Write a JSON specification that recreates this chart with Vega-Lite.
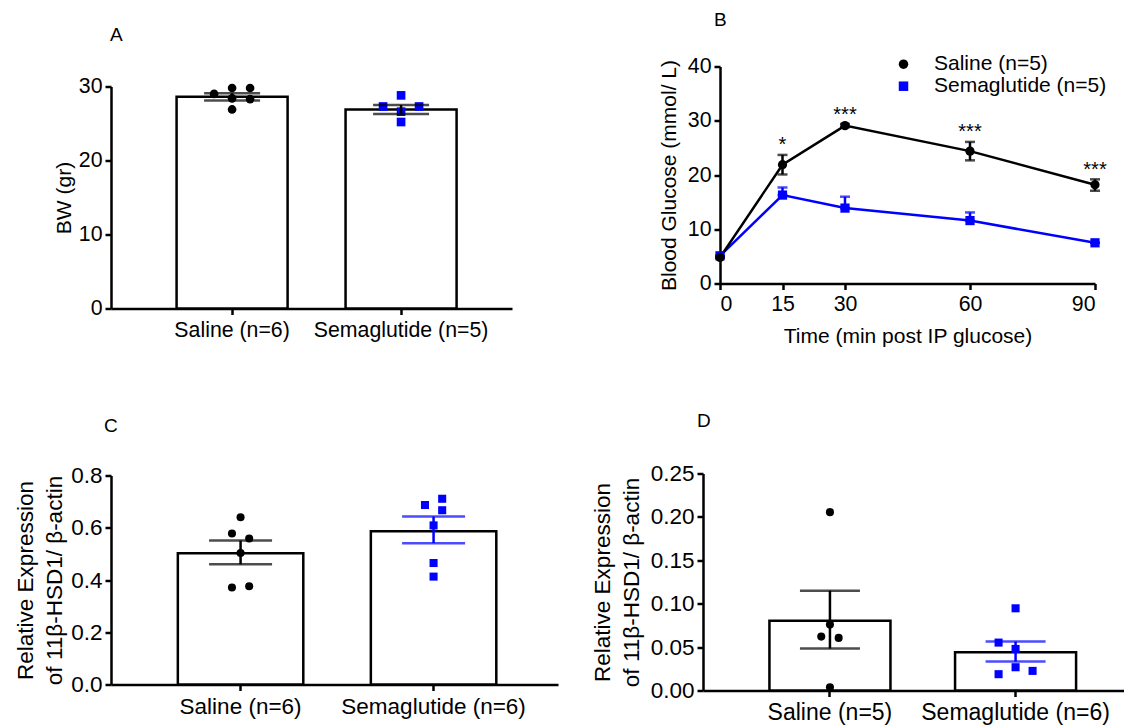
{
  "$schema": "https://vega.github.io/schema/vega-lite/v6.json",
  "background": "white",
  "padding": {"left": 14, "top": 10.5, "right": 0, "bottom": 0},
  "config": {
    "font": "Liberation Sans",
    "view": {"stroke": null},
    "axis": {"domainColor": "black", "domainWidth": 2.5, "tickColor": "black", "tickWidth": 2.5, "tickSize": 6, "labelColor": "black", "titleColor": "black", "grid": false, "labelFontSize": 21.3, "titleFontSize": 21, "titleFontWeight": "normal", "labelPadding": 3, "titlePadding": 4, "labelLimit": 0, "labelFont": "Liberation Sans", "titleFont": "Liberation Sans"},
    "legend": {"labelFont": "Liberation Sans", "labelFontSize": 21, "labelColor": "black", "labelLimit": 0},
    "title": {"anchor": "start", "frame": "group", "fontSize": 19, "fontWeight": "normal", "color": "black", "font": "Liberation Sans"}
  },
  "resolve": {"scale": {"color": "independent", "shape": "independent"}},
  "datasets": {
    "barA": [
      {"g": "Saline (n=6)", "mean": 28.6, "lo": 28.1, "hi": 29.1},
      {"g": "Semaglutide (n=5)", "mean": 26.9, "lo": 26.3, "hi": 27.5}
    ],
    "ptsA": [
      {"g": "Saline (n=6)", "v": 29.0, "col": -2},
      {"g": "Saline (n=6)", "v": 29.8, "col": 0},
      {"g": "Saline (n=6)", "v": 28.4, "col": 0},
      {"g": "Saline (n=6)", "v": 26.9, "col": 0},
      {"g": "Saline (n=6)", "v": 29.8, "col": 2},
      {"g": "Saline (n=6)", "v": 28.3, "col": 2},
      {"g": "Semaglutide (n=5)", "v": 28.8, "col": 0},
      {"g": "Semaglutide (n=5)", "v": 27.3, "col": -2},
      {"g": "Semaglutide (n=5)", "v": 27.3, "col": 2},
      {"g": "Semaglutide (n=5)", "v": 26.6, "col": 0},
      {"g": "Semaglutide (n=5)", "v": 25.2, "col": 0}
    ],
    "glc": [
      {"g": "Semaglutide (n=5)", "t": 0, "m": 5.1, "lo": 5.1, "hi": 5.1, "sig": ""},
      {"g": "Semaglutide (n=5)", "t": 15, "m": 16.3, "lo": 16.3, "hi": 17.7, "sig": ""},
      {"g": "Semaglutide (n=5)", "t": 30, "m": 13.9, "lo": 13.9, "hi": 16.0, "sig": ""},
      {"g": "Semaglutide (n=5)", "t": 60, "m": 11.6, "lo": 11.6, "hi": 13.1, "sig": ""},
      {"g": "Semaglutide (n=5)", "t": 90, "m": 7.5, "lo": 7.5, "hi": 7.5, "sig": ""},
      {"g": "Saline (n=5)", "t": 0, "m": 4.8, "lo": 4.8, "hi": 4.8, "sig": ""},
      {"g": "Saline (n=5)", "t": 15, "m": 21.9, "lo": 20.1, "hi": 23.7, "sig": "*"},
      {"g": "Saline (n=5)", "t": 30, "m": 29.1, "lo": 28.8, "hi": 29.4, "sig": "***"},
      {"g": "Saline (n=5)", "t": 60, "m": 24.4, "lo": 22.7, "hi": 26.1, "sig": "***"},
      {"g": "Saline (n=5)", "t": 90, "m": 18.2, "lo": 17.1, "hi": 19.2, "sig": "***"}
    ],
    "barC": [
      {"g": "Saline (n=6)", "mean": 0.502, "lo": 0.460, "hi": 0.551},
      {"g": "Semaglutide (n=6)", "mean": 0.587, "lo": 0.541, "hi": 0.643}
    ],
    "ptsC": [
      {"g": "Saline (n=6)", "v": 0.640, "col": 0},
      {"g": "Saline (n=6)", "v": 0.578, "col": -1},
      {"g": "Saline (n=6)", "v": 0.559, "col": 1},
      {"g": "Saline (n=6)", "v": 0.503, "col": 0},
      {"g": "Saline (n=6)", "v": 0.371, "col": -1},
      {"g": "Saline (n=6)", "v": 0.376, "col": 1},
      {"g": "Semaglutide (n=6)", "v": 0.687, "col": -1},
      {"g": "Semaglutide (n=6)", "v": 0.711, "col": 1},
      {"g": "Semaglutide (n=6)", "v": 0.667, "col": 1},
      {"g": "Semaglutide (n=6)", "v": 0.609, "col": 0},
      {"g": "Semaglutide (n=6)", "v": 0.465, "col": 0},
      {"g": "Semaglutide (n=6)", "v": 0.413, "col": 0}
    ],
    "barD": [
      {"g": "Saline (n=5)", "mean": 0.0805, "lo": 0.0483, "hi": 0.115},
      {"g": "Semaglutide (n=6)", "mean": 0.0441, "lo": 0.0334, "hi": 0.0564}
    ],
    "ptsD": [
      {"g": "Saline (n=5)", "v": 0.2055, "col": 0},
      {"g": "Saline (n=5)", "v": 0.0759, "col": 0},
      {"g": "Saline (n=5)", "v": 0.0621, "col": -1},
      {"g": "Saline (n=5)", "v": 0.0606, "col": 1},
      {"g": "Saline (n=5)", "v": 0.0038, "col": 0},
      {"g": "Semaglutide (n=6)", "v": 0.0947, "col": 0},
      {"g": "Semaglutide (n=6)", "v": 0.0552, "col": -2},
      {"g": "Semaglutide (n=6)", "v": 0.0479, "col": 0},
      {"g": "Semaglutide (n=6)", "v": 0.0268, "col": 0},
      {"g": "Semaglutide (n=6)", "v": 0.0226, "col": 2},
      {"g": "Semaglutide (n=6)", "v": 0.0188, "col": -2}
    ]
  },
  "vconcat": [
    {
      "resolve": {"scale": {"color": "independent", "shape": "independent"}},
      "hconcat": [
        {
          "width": 401, "height": 242,
          "title": {"text": "A", "offset": 21.5, "dx": -1},
          "layer": [
            {
              "data": {"name": "barA"},
              "mark": {"type": "bar", "fill": "white", "stroke": "black", "strokeWidth": 2.5},
              "encoding": {
                "x": {"field": "g", "type": "nominal", "sort": null, "scale": {"paddingInner": 0.343, "paddingOuter": 0.358, "align": 0.542}, "axis": {"title": null, "labelAngle": 0, "labelPadding": 5}},
                "y": {"field": "mean", "type": "quantitative", "scale": {"domain": [0, 30], "nice": false, "range": [242, 20]}, "axis": {"values": [0, 10, 20, 30], "title": "BW (gr)"}}
              }
            },
            {
              "data": {"name": "ptsA"},
              "transform": [{"filter": "datum.col === -2"}],
              "mark": {"type": "point", "filled": true, "opacity": 1, "size": 75, "xOffset": -18},
              "encoding": {
                "x": {"field": "g", "type": "nominal", "sort": null},
                "y": {"field": "v", "type": "quantitative"},
                "color": {"field": "g", "type": "nominal", "scale": {"domain": ["Saline (n=6)", "Semaglutide (n=5)"], "range": ["#000000", "#0000ff"]}, "legend": null},
                "shape": {"field": "g", "type": "nominal", "scale": {"domain": ["Saline (n=6)", "Semaglutide (n=5)"], "range": ["circle", "square"]}, "legend": null}
              }
            },
            {
              "data": {"name": "ptsA"},
              "transform": [{"filter": "datum.col === 0"}],
              "mark": {"type": "point", "filled": true, "opacity": 1, "size": 75},
              "encoding": {
                "x": {"field": "g", "type": "nominal", "sort": null},
                "y": {"field": "v", "type": "quantitative"},
                "color": {"field": "g", "type": "nominal", "legend": null},
                "shape": {"field": "g", "type": "nominal", "legend": null}
              }
            },
            {
              "data": {"name": "ptsA"},
              "transform": [{"filter": "datum.col === 2"}],
              "mark": {"type": "point", "filled": true, "opacity": 1, "size": 75, "xOffset": 18},
              "encoding": {
                "x": {"field": "g", "type": "nominal", "sort": null},
                "y": {"field": "v", "type": "quantitative"},
                "color": {"field": "g", "type": "nominal", "legend": null},
                "shape": {"field": "g", "type": "nominal", "legend": null}
              }
            },
            {
              "data": {"name": "barA"},
              "mark": {"type": "rule", "color": "black", "strokeWidth": 2.5},
              "encoding": {"x": {"field": "g", "type": "nominal", "sort": null}, "y": {"field": "lo", "type": "quantitative"}, "y2": {"field": "hi"}}
            },
            {
              "data": {"name": "barA"},
              "mark": {"type": "tick", "orient": "horizontal", "color": "black", "thickness": 2.5, "size": 56},
              "encoding": {"x": {"field": "g", "type": "nominal", "sort": null}, "y": {"field": "lo", "type": "quantitative"}}
            },
            {
              "data": {"name": "barA"},
              "mark": {"type": "tick", "orient": "horizontal", "color": "black", "thickness": 2.5, "size": 56},
              "encoding": {"x": {"field": "g", "type": "nominal", "sort": null}, "y": {"field": "hi", "type": "quantitative"}}
            }
          ]
        },
        {
          "width": 375, "height": 217,
          "title": {"text": "B", "offset": 24, "dx": -6},
          "layer": [
            {
              "data": {"name": "glc"},
              "mark": {"type": "line", "strokeWidth": 2.5},
              "encoding": {
                "x": {"field": "t", "type": "quantitative", "scale": {"domain": [0, 90], "nice": false}, "axis": {"values": [0, 15, 30, 60, 90], "title": "Time (min post IP glucose)", "titlePadding": 11, "labelPadding": 4}},
                "y": {"field": "m", "type": "quantitative", "scale": {"domain": [0, 40], "nice": false}, "axis": {"values": [0, 10, 20, 30, 40], "title": "Blood Glucose (mmol/ L)", "titlePadding": 8}},
                "color": {"field": "g", "type": "nominal", "scale": {"domain": ["Saline (n=5)", "Semaglutide (n=5)"], "range": ["#000000", "#0000ff"]}, "legend": null}
              }
            },
            {
              "data": {"name": "glc"},
              "mark": {"type": "rule", "strokeWidth": 2.5},
              "encoding": {"x": {"field": "t", "type": "quantitative"}, "y": {"field": "lo", "type": "quantitative"}, "y2": {"field": "hi"}, "color": {"field": "g", "type": "nominal", "legend": null}}
            },
            {
              "data": {"name": "glc"},
              "mark": {"type": "tick", "orient": "horizontal", "thickness": 2.5, "size": 10},
              "encoding": {"x": {"field": "t", "type": "quantitative"}, "y": {"field": "lo", "type": "quantitative"}, "color": {"field": "g", "type": "nominal", "legend": null}}
            },
            {
              "data": {"name": "glc"},
              "mark": {"type": "tick", "orient": "horizontal", "thickness": 2.5, "size": 10},
              "encoding": {"x": {"field": "t", "type": "quantitative"}, "y": {"field": "hi", "type": "quantitative"}, "color": {"field": "g", "type": "nominal", "legend": null}}
            },
            {
              "data": {"name": "glc"},
              "mark": {"type": "point", "filled": true, "opacity": 1, "size": 85},
              "encoding": {
                "x": {"field": "t", "type": "quantitative"},
                "y": {"field": "m", "type": "quantitative"},
                "color": {"field": "g", "type": "nominal", "legend": {"orient": "none", "legendX": 173, "legendY": -12.8, "title": null, "symbolSize": 90, "labelOffset": 20, "rowPadding": 0, "padding": 0, "symbolOpacity": 1}},
                "shape": {"field": "g", "type": "nominal", "scale": {"domain": ["Saline (n=5)", "Semaglutide (n=5)"], "range": ["circle", "square"]}, "legend": {"orient": "none", "legendX": 173, "legendY": -12.8, "title": null, "symbolSize": 90, "labelOffset": 20, "rowPadding": 0, "padding": 0, "symbolOpacity": 1}}
              }
            },
            {
              "data": {"name": "glc"},
              "transform": [{"filter": "datum.sig !== ''"}],
              "mark": {"type": "text", "fontSize": 20, "baseline": "middle", "dy": -9.5, "color": "black"},
              "encoding": {"x": {"field": "t", "type": "quantitative"}, "y": {"field": "hi", "type": "quantitative"}, "text": {"field": "sig"}}
            }
          ],
          "resolve": {"legend": {"color": "independent", "shape": "independent"}}
        }
      ],
      "spacing": 146
    },
    {
      "resolve": {"scale": {"color": "independent", "shape": "independent"}},
      "hconcat": [
        {
          "width": 447, "height": 211,
          "title": {"text": "C", "offset": 29, "dx": -7},
          "layer": [
            {
              "data": {"name": "barC"},
              "mark": {"type": "bar", "fill": "white", "stroke": "black", "strokeWidth": 2.5},
              "encoding": {
                "x": {"field": "g", "type": "nominal", "sort": null, "scale": {"paddingInner": 0.35, "paddingOuter": 0.333, "align": 0.52}, "axis": {"title": null, "labelAngle": 0, "labelPadding": 5, "labelFontSize": 22.5}},
                "y": {"field": "mean", "type": "quantitative", "scale": {"domain": [0, 0.8], "nice": false, "range": [211, 2]}, "axis": {"values": [0, 0.2, 0.4, 0.6, 0.8], "format": ".1f", "labelFontSize": 22.5, "titleFontSize": 22.5, "titlePadding": 4, "title": ["Relative Expression", "of 11β-HSD1/ β-actin"], "titleLineHeight": 29}}
              }
            },
            {
              "data": {"name": "ptsC"},
              "transform": [{"filter": "datum.col === -1"}],
              "mark": {"type": "point", "filled": true, "opacity": 1, "size": 65, "xOffset": -8.6},
              "encoding": {
                "x": {"field": "g", "type": "nominal", "sort": null},
                "y": {"field": "v", "type": "quantitative"},
                "color": {"field": "g", "type": "nominal", "scale": {"domain": ["Saline (n=6)", "Semaglutide (n=6)"], "range": ["#000000", "#0000ff"]}, "legend": null},
                "shape": {"field": "g", "type": "nominal", "scale": {"domain": ["Saline (n=6)", "Semaglutide (n=6)"], "range": ["circle", "square"]}, "legend": null}
              }
            },
            {
              "data": {"name": "ptsC"},
              "transform": [{"filter": "datum.col === 0"}],
              "mark": {"type": "point", "filled": true, "opacity": 1, "size": 65},
              "encoding": {
                "x": {"field": "g", "type": "nominal", "sort": null},
                "y": {"field": "v", "type": "quantitative"},
                "color": {"field": "g", "type": "nominal", "legend": null},
                "shape": {"field": "g", "type": "nominal", "legend": null}
              }
            },
            {
              "data": {"name": "ptsC"},
              "transform": [{"filter": "datum.col === 1"}],
              "mark": {"type": "point", "filled": true, "opacity": 1, "size": 65, "xOffset": 8.6},
              "encoding": {
                "x": {"field": "g", "type": "nominal", "sort": null},
                "y": {"field": "v", "type": "quantitative"},
                "color": {"field": "g", "type": "nominal", "legend": null},
                "shape": {"field": "g", "type": "nominal", "legend": null}
              }
            },
            {
              "data": {"name": "barC"},
              "mark": {"type": "rule", "strokeWidth": 2.5},
              "encoding": {"x": {"field": "g", "type": "nominal", "sort": null}, "y": {"field": "lo", "type": "quantitative"}, "y2": {"field": "hi"}, "color": {"field": "g", "type": "nominal", "legend": null}}
            },
            {
              "data": {"name": "barC"},
              "mark": {"type": "tick", "orient": "horizontal", "thickness": 2.5, "size": 63},
              "encoding": {"x": {"field": "g", "type": "nominal", "sort": null}, "y": {"field": "lo", "type": "quantitative"}, "color": {"field": "g", "type": "nominal", "legend": null}}
            },
            {
              "data": {"name": "barC"},
              "mark": {"type": "tick", "orient": "horizontal", "thickness": 2.5, "size": 63},
              "encoding": {"x": {"field": "g", "type": "nominal", "sort": null}, "y": {"field": "hi", "type": "quantitative"}, "color": {"field": "g", "type": "nominal", "legend": null}}
            }
          ]
        },
        {
          "width": 421, "height": 217,
          "title": {"text": "D", "offset": 32, "dx": -6},
          "layer": [
            {
              "data": {"name": "barD"},
              "mark": {"type": "bar", "fill": "white", "stroke": "black", "strokeWidth": 2.5},
              "encoding": {
                "x": {"field": "g", "type": "nominal", "sort": null, "scale": {"paddingInner": 0.348, "paddingOuter": 0.308, "align": 0.581}, "axis": {"title": null, "labelAngle": 0, "labelPadding": 5, "labelFontSize": 23}},
                "y": {"field": "mean", "type": "quantitative", "scale": {"domain": [0, 0.25], "nice": false}, "axis": {"values": [0, 0.05, 0.1, 0.15, 0.2, 0.25], "format": ".2f", "labelFontSize": 22.5, "titleFontSize": 22.5, "titlePadding": 7, "title": ["Relative Expression", "of 11β-HSD1/ β-actin"], "titleLineHeight": 29}}
              }
            },
            {
              "data": {"name": "ptsD"},
              "transform": [{"filter": "datum.col === -2"}],
              "mark": {"type": "point", "filled": true, "opacity": 1, "size": 65, "xOffset": -17},
              "encoding": {
                "x": {"field": "g", "type": "nominal", "sort": null},
                "y": {"field": "v", "type": "quantitative"},
                "color": {"field": "g", "type": "nominal", "scale": {"domain": ["Saline (n=5)", "Semaglutide (n=6)"], "range": ["#000000", "#0000ff"]}, "legend": null},
                "shape": {"field": "g", "type": "nominal", "scale": {"domain": ["Saline (n=5)", "Semaglutide (n=6)"], "range": ["circle", "square"]}, "legend": null}
              }
            },
            {
              "data": {"name": "ptsD"},
              "transform": [{"filter": "datum.col === -1"}],
              "mark": {"type": "point", "filled": true, "opacity": 1, "size": 65, "xOffset": -8.7},
              "encoding": {
                "x": {"field": "g", "type": "nominal", "sort": null},
                "y": {"field": "v", "type": "quantitative"},
                "color": {"field": "g", "type": "nominal", "legend": null},
                "shape": {"field": "g", "type": "nominal", "legend": null}
              }
            },
            {
              "data": {"name": "ptsD"},
              "transform": [{"filter": "datum.col === 0"}],
              "mark": {"type": "point", "filled": true, "opacity": 1, "size": 65},
              "encoding": {
                "x": {"field": "g", "type": "nominal", "sort": null},
                "y": {"field": "v", "type": "quantitative"},
                "color": {"field": "g", "type": "nominal", "legend": null},
                "shape": {"field": "g", "type": "nominal", "legend": null}
              }
            },
            {
              "data": {"name": "ptsD"},
              "transform": [{"filter": "datum.col === 1"}],
              "mark": {"type": "point", "filled": true, "opacity": 1, "size": 65, "xOffset": 8.7},
              "encoding": {
                "x": {"field": "g", "type": "nominal", "sort": null},
                "y": {"field": "v", "type": "quantitative"},
                "color": {"field": "g", "type": "nominal", "legend": null},
                "shape": {"field": "g", "type": "nominal", "legend": null}
              }
            },
            {
              "data": {"name": "ptsD"},
              "transform": [{"filter": "datum.col === 2"}],
              "mark": {"type": "point", "filled": true, "opacity": 1, "size": 65, "xOffset": 17},
              "encoding": {
                "x": {"field": "g", "type": "nominal", "sort": null},
                "y": {"field": "v", "type": "quantitative"},
                "color": {"field": "g", "type": "nominal", "legend": null},
                "shape": {"field": "g", "type": "nominal", "legend": null}
              }
            },
            {
              "data": {"name": "barD"},
              "mark": {"type": "rule", "strokeWidth": 2.5},
              "encoding": {"x": {"field": "g", "type": "nominal", "sort": null}, "y": {"field": "lo", "type": "quantitative"}, "y2": {"field": "hi"}, "color": {"field": "g", "type": "nominal", "legend": null}}
            },
            {
              "data": {"name": "barD"},
              "mark": {"type": "tick", "orient": "horizontal", "thickness": 2.5, "size": 60},
              "encoding": {"x": {"field": "g", "type": "nominal", "sort": null}, "y": {"field": "lo", "type": "quantitative"}, "color": {"field": "g", "type": "nominal", "legend": null}}
            },
            {
              "data": {"name": "barD"},
              "mark": {"type": "tick", "orient": "horizontal", "thickness": 2.5, "size": 60},
              "encoding": {"x": {"field": "g", "type": "nominal", "sort": null}, "y": {"field": "hi", "type": "quantitative"}, "color": {"field": "g", "type": "nominal", "legend": null}}
            }
          ]
        }
      ],
      "spacing": 33
    }
  ],
  "spacing": 64
}
